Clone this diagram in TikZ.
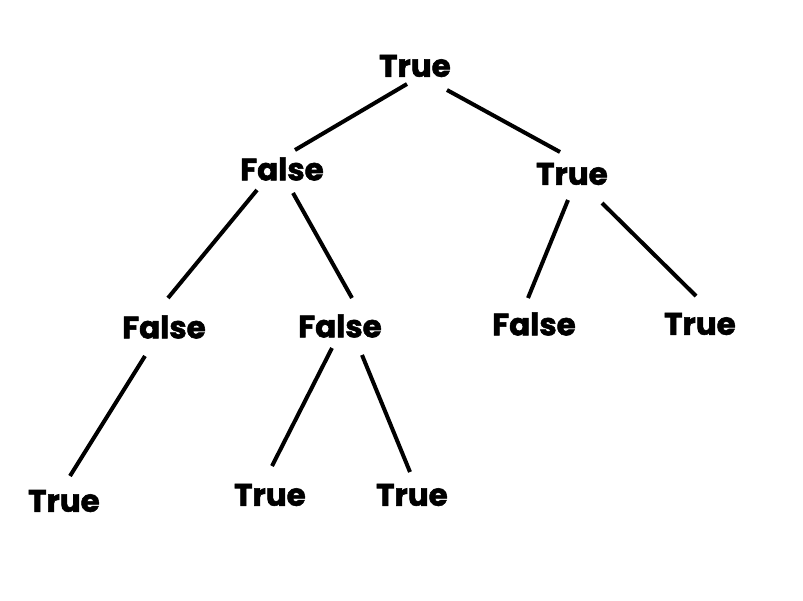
\documentclass[tikz,border=0pt]{standalone}
\usepackage{fontspec}
\setmainfont{Poppins}[BoldFont={* Bold},BoldFeatures={FakeBold=1.8}]
\begin{document}
\begin{tikzpicture}[x=1pt,y=-1pt,
  lbl/.style={font=\fontsize{31}{36}\selectfont\bfseries, inner sep=0pt},
  edge/.style={line width=4pt, black}]
\useasboundingbox[fill=white] (0,0) rectangle (803,600);
\node[lbl] (r) at (415,66) {True};
\node[lbl] (a) at (282,169) {False};
\node[lbl] (b) at (572,174) {True};
\node[lbl] (aa) at (164,327) {False};
\node[lbl] (ab) at (340,326) {False};
\node[lbl] (ba) at (534,324) {False};
\node[lbl] (bb) at (700,324) {True};
\node[lbl] (aaa) at (64,501) {True};
\node[lbl] (aba) at (270,495) {True};
\node[lbl] (abb) at (412,495) {True};
\draw[edge] ([shift={(-8,18)}]r.center) -- ([shift={(13,-19)}]a.center);
\draw[edge] ([shift={(32,24)}]r.center) -- ([shift={(-12,-22)}]b.center);
\draw[edge] ([shift={(-25,21)}]a.center) -- ([shift={(4,-29)}]aa.center);
\draw[edge] ([shift={(11,24)}]a.center) -- ([shift={(12,-28)}]ab.center);
\draw[edge] ([shift={(-4,26)}]b.center) -- ([shift={(-6,-26)}]ba.center);
\draw[edge] ([shift={(30,29)}]b.center) -- ([shift={(-4,-28)}]bb.center);
\draw[edge] ([shift={(-19,29)}]aa.center) -- ([shift={(6,-25)}]aaa.center);
\draw[edge] ([shift={(-8,22)}]ab.center) -- ([shift={(2,-29)}]aba.center);
\draw[edge] ([shift={(22,29)}]ab.center) -- ([shift={(-2,-23)}]abb.center);
\end{tikzpicture}
\end{document}
